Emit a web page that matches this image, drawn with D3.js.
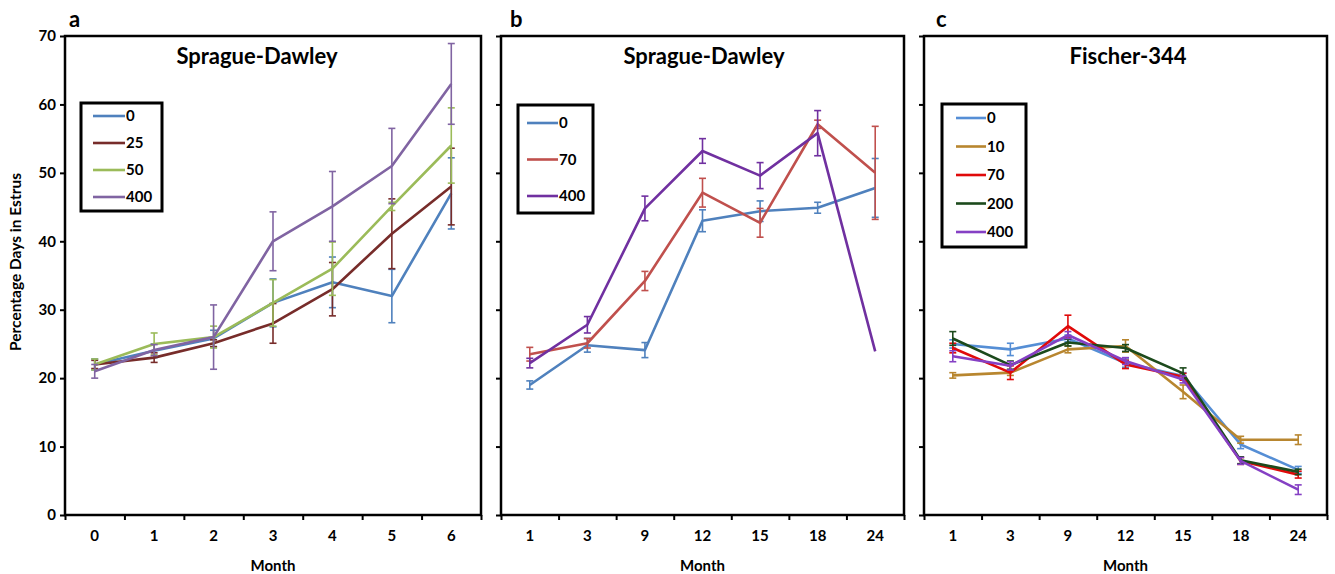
<!DOCTYPE html>
<html><head><meta charset="utf-8">
<script src="https://cdn.jsdelivr.net/npm/d3@7"></script>
<style>
body{margin:0;background:#fff;}
text{font-family:Lato,"Open Sans",sans-serif;font-weight:bold;fill:#000;}
</style>
</head><body>
<svg id="chart" width="1335" height="574"></svg>
<script>
// ---------- DATA ----------
const monthsA = ["0","1","2","3","4","5","6"];
const monthsBC = ["1","3","9","12","15","18","24"];
const yTickValues = [0,10,20,30,40,50,60,70];

// Panel a — Sprague-Dawley
const aNames = ["0","25","50","400"];
const aDose0   = [22.0,24.0,25.8,31.0,34.0,32.0,47.0];
const aDose0E  = [0.8,1.0,1.2,3.5,3.7,3.9,5.2];
const aDose25  = [22.0,23.0,25.1,28.0,33.0,41.1,48.0];
const aDose25E = [0.6,0.7,0.5,2.9,3.9,5.1,5.6];
const aDose50  = [22.0,25.0,26.0,31.0,36.0,45.1,54.0];
const aDose50E = [0.8,1.6,1.6,3.4,3.9,0.6,5.5];
const aDose400 = [21.0,24.1,26.0,40.0,45.1,51.0,63.0];
const aDose400E= [1.0,0.8,4.7,4.3,5.1,5.5,5.9];

// Panel b — Sprague-Dawley
const bNames = ["0","70","400"];
const bDose0   = [19.0,24.8,24.1,43.0,44.4,44.9,47.8];
const bDose0E  = [0.6,1.0,1.1,1.6,1.5,0.8,4.3];
const bDose70  = [23.5,25.1,34.2,47.1,42.7,57.1,50.0];
const bDose70E = [1.0,0.7,1.4,2.1,2.1,0.6,6.8];
const bDose400 = [22.2,27.8,44.8,53.2,49.6,55.8,23.9];
const bDose400E= [0.7,1.2,1.8,1.8,1.9,3.3,0];

// Panel c — Fischer-344
const cNames = ["0","10","70","200","400"];
const cDose0   = [25.0,24.2,25.8,22.2,20.3,10.3,6.6];
const cDose0E  = [0.6,0.9,0.5,0.6,0.5,0.6,0.5];
const cDose10  = [20.4,20.8,24.2,24.7,18.0,11.0,11.0];
const cDose10E = [0.4,0.4,0.5,0.9,1.0,0.5,0.7];
const cDose70  = [24.4,20.8,27.6,22.0,20.2,7.9,5.9];
const cDose70E = [0.7,1.0,1.6,0.6,0.5,0.5,0.5];
const cDose200 = [25.8,21.9,25.2,24.4,20.7,8.0,6.3];
const cDose200E= [1.0,0.6,0.5,0.5,0.8,0.5,0.4];
const cDose400 = [23.2,21.8,26.3,22.5,19.8,7.9,3.7];
const cDose400E= [0.8,0.6,0.5,0.5,0.5,0.5,0.7];

// ---------- LAYOUT / STYLE ----------
const svg = d3.select("#chart");
const plotTop = 36, plotBottom = 515;
const y = d3.scaleLinear().domain([0,70]).range([plotBottom, plotTop]);

const panels = [
  {letter:"a", title:"Sprague-Dawley", cats:monthsA, left:65, right:481, titleX:257, letterX:69, showY:true,
   series:[
     {name:aNames[0], v:aDose0, e:aDose0E, color:"#4F81BD"},
     {name:aNames[1], v:aDose25, e:aDose25E, color:"#772C2A"},
     {name:aNames[2], v:aDose50, e:aDose50E, color:"#9BBB59"},
     {name:aNames[3], v:aDose400, e:aDose400E, color:"#8064A2"}],
   legend:{x:81,y:103,w:81,h:108,lx1:93,lx2:125,y0:116,dy:27}},
  {letter:"b", title:"Sprague-Dawley", cats:monthsBC, left:501, right:904, titleX:704, letterX:510, showY:false,
   series:[
     {name:bNames[0], v:bDose0, e:bDose0E, color:"#4F81BD"},
     {name:bNames[1], v:bDose70, e:bDose70E, color:"#C0504D"},
     {name:bNames[2], v:bDose400, e:bDose400E, color:"#7030A0"}],
   legend:{x:518,y:105,w:75,h:108,lx1:527,lx2:558,y0:123,dy:36.5}},
  {letter:"c", title:"Fischer-344", cats:monthsBC, left:924, right:1327, titleX:1128, letterX:936, showY:false,
   series:[
     {name:cNames[0], v:cDose0, e:cDose0E, color:"#558ED5"},
     {name:cNames[1], v:cDose10, e:cDose10E, color:"#B8862F"},
     {name:cNames[2], v:cDose70, e:cDose70E, color:"#E00A0A"},
     {name:cNames[3], v:cDose200, e:cDose200E, color:"#1C4A1C"},
     {name:cNames[4], v:cDose400, e:cDose400E, color:"#8540C4"}],
   legend:{x:942,y:104,w:84,h:143,lx1:956,lx2:986,y0:118,dy:28.5}}
];

panels.forEach(p => {
  const g = svg.append("g");
  const x = d3.scaleBand().domain(p.cats).range([p.left, p.right]).padding(0);
  const xc = d => x(d) + x.bandwidth()/2;

  // y axis ticks
  const yAxis = d3.axisLeft(y).tickValues(yTickValues).tickSize(5).tickPadding(4)
     .tickFormat(p.showY ? d3.format("d") : () => "");
  const ya = g.append("g").attr("transform", `translate(${p.left},0)`).call(yAxis);
  ya.select(".domain").remove();
  ya.selectAll("line").attr("stroke","#000").attr("stroke-width",2);
  ya.selectAll("text").style("font-size","15px").style("font-family","Lato,sans-serif").style("font-weight","bold");

  // x tick marks at band boundaries
  const xb = d3.scaleLinear().domain([0,p.cats.length]).range([p.left,p.right]);
  const xTickAx = d3.axisBottom(xb).tickValues(d3.range(0,p.cats.length+1)).tickSize(5).tickFormat(() => "");
  const xt = g.append("g").attr("transform", `translate(0,${plotBottom})`).call(xTickAx);
  xt.select(".domain").remove();
  xt.selectAll("line").attr("stroke","#000").attr("stroke-width",2);

  // x labels
  const xAxis = d3.axisBottom(x).tickSize(0).tickPadding(15);
  const xl = g.append("g").attr("transform", `translate(0,${plotBottom})`).call(xAxis);
  xl.select(".domain").remove();
  xl.selectAll("text").style("font-size","15px").style("font-family","Lato,sans-serif").style("font-weight","bold");

  // frame
  g.append("rect").attr("x",p.left).attr("y",plotTop).attr("width",p.right-p.left).attr("height",plotBottom-plotTop)
    .attr("fill","none").attr("stroke","#000").attr("stroke-width",2.5);

  // lines and error bars
  const line = d3.line().x((d,i)=>xc(p.cats[i])).y(d=>y(d));
  p.series.forEach(s => {
    g.append("path").datum(s.v).attr("d", line).attr("fill","none")
      .attr("stroke", s.color).attr("stroke-width",2.6).attr("stroke-linejoin","round");
    const eb = g.append("g").attr("stroke", s.color).attr("stroke-width",1.6);
    s.v.forEach((v,i) => {
      const e = s.e[i]; if (!e) return;
      const cx = xc(p.cats[i]);
      eb.append("line").attr("x1",cx).attr("x2",cx).attr("y1",y(v-e)).attr("y2",y(v+e));
      eb.append("line").attr("x1",cx-3.5).attr("x2",cx+3.5).attr("y1",y(v-e)).attr("y2",y(v-e));
      eb.append("line").attr("x1",cx-3.5).attr("x2",cx+3.5).attr("y1",y(v+e)).attr("y2",y(v+e));
    });
  });

  // title & letter
  g.append("text").attr("x",p.titleX).attr("y",64).attr("text-anchor","middle")
    .style("font-size","22px").text(p.title);
  g.append("text").attr("x",p.letterX).attr("y",27).style("font-size","22px").text(p.letter);
  g.append("text").attr("x",(p.left+p.right)/2).attr("y",571).attr("text-anchor","middle")
    .style("font-size","15px").text("Month");

  // legend
  const L = p.legend;
  const lg = g.append("g");
  lg.append("rect").attr("x",L.x).attr("y",L.y).attr("width",L.w).attr("height",L.h)
    .attr("fill","#fff").attr("stroke","#000").attr("stroke-width",3);
  p.series.forEach((s,i) => {
    const yy = L.y0 + i*L.dy;
    lg.append("line").attr("x1",L.lx1).attr("x2",L.lx2).attr("y1",yy).attr("y2",yy)
      .attr("stroke",s.color).attr("stroke-width",2.6);
    lg.append("text").attr("x",L.lx2+1).attr("y",yy).attr("dy","0.36em")
      .style("font-size","15px").text(s.name);
  });
});

// y axis title
svg.append("text").attr("transform","translate(21,262) rotate(-90)").attr("text-anchor","middle")
  .style("font-size","15.5px").text("Percentage Days in Estrus");
</script>
</body></html>
